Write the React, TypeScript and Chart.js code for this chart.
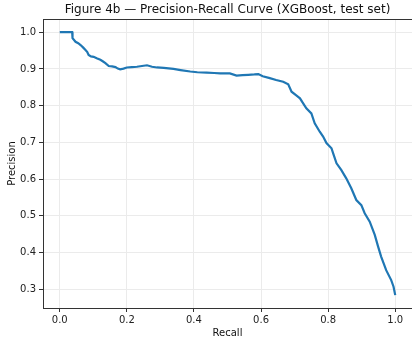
import React, { useEffect, useRef } from "react";
import { Chart, registerables } from "chart.js";

Chart.register(...registerables);

const TITLE = "Figure 4b — Precision-Recall Curve (XGBoost, test set)";
const X_LABEL = "Recall";
const Y_LABEL = "Precision";
const X_TICKS = [0, 0.2, 0.4, 0.6, 0.8, 1.0];
const Y_TICKS = [0.3, 0.4, 0.5, 0.6, 0.7, 0.8, 0.9, 1.0];

const recall = [
  0.0, 0.037, 0.038, 0.047, 0.055, 0.062, 0.07, 0.076, 0.082, 0.086, 0.093, 0.101,
  0.11, 0.121, 0.128, 0.136, 0.146, 0.156, 0.166, 0.173, 0.18, 0.19, 0.2, 0.215,
  0.23, 0.245, 0.26, 0.275, 0.29, 0.31, 0.339, 0.36, 0.389, 0.41, 0.438, 0.46,
  0.478, 0.507, 0.527, 0.545, 0.562, 0.58, 0.592, 0.605, 0.626, 0.645, 0.666,
  0.681, 0.691, 0.705, 0.716, 0.735, 0.75, 0.76, 0.775, 0.785, 0.795, 0.81, 0.815,
  0.825, 0.839, 0.854, 0.869, 0.884, 0.899, 0.909, 0.924, 0.939, 0.949, 0.958,
  0.973, 0.988, 0.995, 1.0,
];
const precision = [
  1.0, 1.0, 0.984, 0.974, 0.97, 0.965, 0.958, 0.952, 0.946, 0.938, 0.934, 0.933,
  0.929, 0.925, 0.921, 0.916, 0.908, 0.907, 0.905, 0.901, 0.899, 0.901, 0.904, 0.905,
  0.906, 0.908, 0.91, 0.906, 0.904, 0.903, 0.9, 0.897, 0.893, 0.891, 0.89, 0.889,
  0.888, 0.888, 0.882, 0.883, 0.884, 0.885, 0.886, 0.88, 0.875, 0.87, 0.865,
  0.858, 0.838, 0.828, 0.82, 0.793, 0.779, 0.752, 0.729, 0.716, 0.698, 0.684, 0.67,
  0.643, 0.625, 0.602, 0.575, 0.543, 0.529, 0.507, 0.484, 0.448, 0.416, 0.389,
  0.352, 0.325, 0.307, 0.284,
];

const FONT = "'DejaVu Sans', sans-serif";

export default function App() {
  const ref = useRef<HTMLCanvasElement | null>(null);
  useEffect(() => {
    if (!ref.current) return;
    const framePlugin = {
      id: "frame",
      afterDraw(chart: any) {
        const { ctx, chartArea: a } = chart;
        ctx.save();
        ctx.strokeStyle = "#333";
        ctx.lineWidth = 1;
        ctx.strokeRect(a.left + 0.5, a.top + 0.5, a.right - a.left, a.bottom - a.top);
        ctx.fillStyle = "#111";
        ctx.font = `12px ${FONT}`;
        ctx.textAlign = "center";
        ctx.textBaseline = "middle";
        ctx.fillText(TITLE, (a.left + a.right) / 2, 10);
        ctx.restore();
      },
    };
    const chart = new Chart(ref.current, {
      type: "line",
      data: {
        datasets: [
          {
            data: recall.map((r, i) => ({ x: r, y: precision[i] })),
            borderColor: "#1f77b4",
            borderWidth: 2.2,
            pointRadius: 0,
            tension: 0,
            fill: false,
          },
        ],
      },
      options: {
        animation: false,
        responsive: false,
        layout: { padding: { top: 19, right: 0, left: 0, bottom: 0 } },
        plugins: { legend: { display: false }, tooltip: { enabled: false }, title: { display: false } },
        scales: {
          x: {
            type: "linear",
            min: -0.05,
            max: 1.05,
            afterBuildTicks: (s: any) => {
              s.ticks = X_TICKS.map((v) => ({ value: v }));
            },
            afterFit: (s: any) => {
              s.height = 35;
            },
            ticks: {
              callback: (v: any) => Number(v).toFixed(1),
              font: { family: FONT, size: 10 },
              color: "#222",
              padding: 2,
              maxRotation: 0,
            },
            grid: { color: "#ebebeb", tickColor: "#333", tickLength: 4, lineWidth: 1 },
            border: { display: true, color: "#333" },
            title: {
              display: true,
              text: X_LABEL,
              font: { family: FONT, size: 10 },
              color: "#111",
              padding: { top: 0, bottom: 4 },
            },
          },
          y: {
            type: "linear",
            min: 0.249,
            max: 1.036,
            afterBuildTicks: (s: any) => {
              s.ticks = Y_TICKS.map((v) => ({ value: v }));
            },
            afterFit: (s: any) => {
              s.width = 43;
            },
            ticks: {
              callback: (v: any) => Number(v).toFixed(1),
              font: { family: FONT, size: 10 },
              color: "#222",
              padding: 3,
            },
            grid: { color: "#ebebeb", tickColor: "#333", tickLength: 4, lineWidth: 1 },
            border: { display: true, color: "#333" },
            title: {
              display: true,
              text: Y_LABEL,
              font: { family: FONT, size: 10 },
              color: "#111",
              padding: { top: 6, bottom: 0 },
            },
          },
        },
      },
      plugins: [framePlugin],
    } as any);
    return () => chart.destroy();
  }, []);
  return (
    <div style={{ position: "fixed", left: 0, top: 0, width: 412, height: 343, background: "#fff" }}>
      <canvas ref={ref} width={412} height={343} style={{ display: "block" }} />
    </div>
  );
}
